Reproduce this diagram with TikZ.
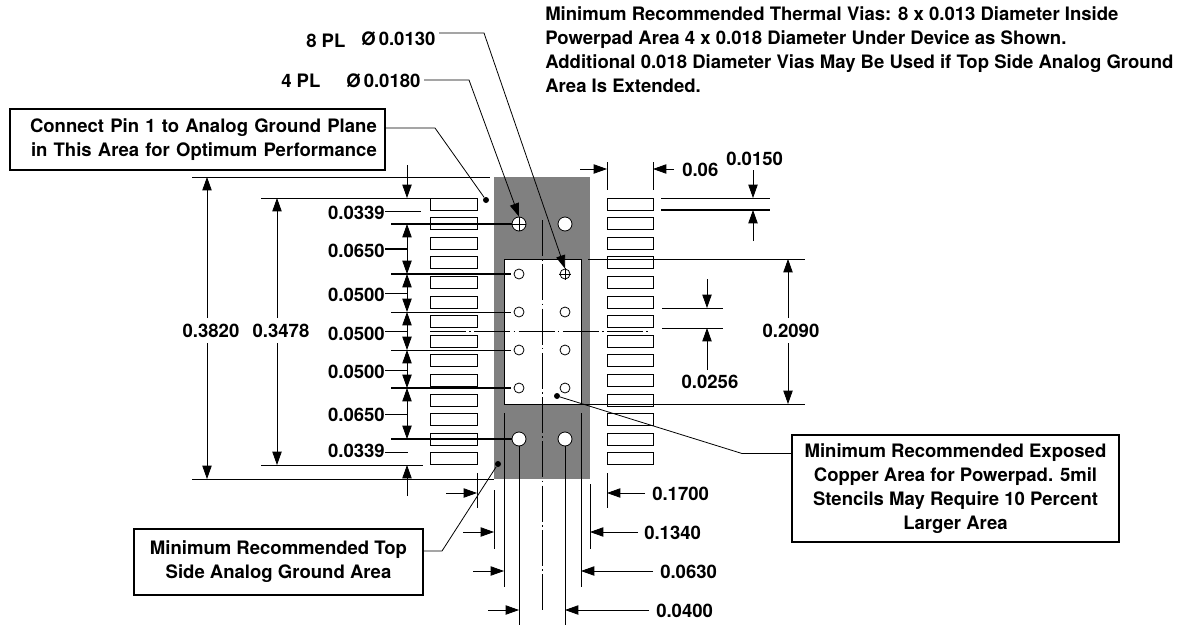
\documentclass[tikz,border=0pt]{standalone}
\usepackage{fontspec}
\setmainfont{TeX Gyre Heros}
\usetikzlibrary{arrows.meta}

\begin{document}
\begin{tikzpicture}[x=.75pt,y=-.75pt,>={Triangle[length=10pt,width=7pt]},
    every node/.append style={align=center,inner sep=0pt,font=\fontsize{13.9}{18}\selectfont\bfseries},
    thin line/.style={line width=.6pt},
    thick line/.style={line width=1.1pt},
    callout/.style={draw,line width=1.5pt,fill=white},
    leader/.style={line width=.6pt},
    center line/.style={line width=.6pt,dash pattern=on 27pt off 2.5pt on 1.2pt off 2.5pt},
    pad/.style={draw,line width=.7pt,fill=white},
    big hole/.style={circle,draw,line width=.6pt,fill=white,minimum size=10.5pt},
    small hole/.style={circle,draw,line width=.6pt,fill=white,minimum size=7.5pt},
    spot/.style={circle,fill=black,minimum size=4.5pt}]
    \useasboundingbox (0,0) rectangle (1186,625);

    % copper area and pins
    \fill[gray] (494,177) rectangle (590,479);
    \draw[thin line,fill=white] (504,259) rectangle (581,404);
    \foreach \i in {0,...,13} {
      \draw[pad] (430,198+19.6*\i) rectangle +(47,12);
      \draw[pad] (607,198+19.6*\i) rectangle +(46,12);
    }

    \draw[center line] (542,220) -- (542,610);
    \draw[center line] (430,331) -- (650,331);

    \node[big hole] (H1) at (519,224) {};
    \node[big hole] (H2) at (565,224) {};
    \node[small hole] (V1) at (519,274) {};
    \node[small hole] (V2) at (565,274) {};
    \node[small hole] (V3) at (519,312) {};
    \node[small hole] (V4) at (565,312) {};
    \node[small hole] (V5) at (519,350) {};
    \node[small hole] (V6) at (565,350) {};
    \node[small hole] (V7) at (519,388) {};
    \node[small hole] (V8) at (565,388) {};
    \node[big hole] (H3) at (519,439) {};
    \node[big hole] (H4) at (565,439) {};
    \draw[thin line] (H1.north) -- (H1.south) (H1.west) -- (H1.east);
    \draw[thin line] (565,268) -- (565,280) (559,274) -- (571,274);

    % left side dimensions
    \draw[thin line] (192,177) -- (490,177);
    \draw[thin line] (261,198) -- (430,198);
    \draw[thin line] (261,465) -- (423,465);
    \draw[thin line] (192,479) -- (494,479);
    \draw[thick line] (391,224) -- (H1.west);
    \draw[thick line] (391,274) -- ([xshift=-2pt]V1.west);
    \draw[thin line] (391,312) -- ([xshift=-2pt]V3.west);
    \draw[thin line] (391,350) -- ([xshift=-2pt]V5.west);
    \draw[thick line] (391,388) -- ([xshift=-2pt]V7.west);
    \draw[thick line] (391,439) -- (H3.west);

    \node (D1) at (211,331) {0.3820};
    \node (D2) at (281,331) {0.3478};
    \draw[thin line,->] (207,318) -- (207,177);
    \draw[thin line,->] (207,343) -- (207,479);
    \draw[thin line,->] (277,318) -- (277,198);
    \draw[thin line,->] (277,343) -- (277,465);

    \node[anchor=east] (L1) at (385,213) {0.0339};
    \node[anchor=east] (L2) at (385,251) {0.0650};
    \node[anchor=east] (L3) at (385,295) {0.0500};
    \node[anchor=east] (L4) at (385,334) {0.0500};
    \node[anchor=east] (L5) at (385,372) {0.0500};
    \node[anchor=east] (L6) at (385,415) {0.0650};
    \node[anchor=east] (L7) at (385,451) {0.0339};
    \draw[thin line] (385,211) -- (421,211);
    \draw[thick line] (385,249) -- (407,249);
    \draw[thin line] (385,293) -- (407,293);
    \draw[thin line] (385,331) -- (407,331);
    \draw[thin line] (385,370) -- (407,370);
    \draw[thin line] (385,414) -- (407,414);
    \draw[thin line] (385,452) -- (408,452);
    \draw[thin line,->] (407,165) -- (407,198);
    \draw[thin line,<->] (407,224) -- (407,274);
    \draw[thin line,<->] (407,274) -- (407,312);
    \draw[thin line,<->] (407,312) -- (407,350);
    \draw[thin line,<->] (407,350) -- (407,388);
    \draw[thin line,<->] (407,388) -- (407,439);
    \draw[thin line,->] (407,496) -- (407,465);

    % right side dimensions
    \draw[thin line] (607,162) -- (607,190);
    \draw[thin line] (653,162) -- (653,190);
    \draw[thin line,->] (580,169) -- (607,169);
    \draw[thin line,->] (674,169) -- (653,169);
    \node[anchor=west] (W1) at (682,170) {0.06};
    \node[anchor=west] (W2) at (726,159) {0.0150};
    \draw[thin line] (661,198) -- (770,198);
    \draw[thick line] (661,210) -- (770,210);
    \draw[thin line,->] (753,170) -- (753,198);
    \draw[thin line,->] (753,241) -- (753,210);

    \draw[thin line] (588,259) -- (805,259);
    \draw[thin line] (581,404) -- (805,404);
    \node (S1) at (791,331) {0.2090};
    \draw[thin line,->] (788,318) -- (788,259);
    \draw[thin line,->] (788,343) -- (788,404);

    \draw[thin line] (662,308) -- (723,308);
    \draw[thin line] (662,328) -- (723,328);
    \node (S2) at (710,382) {0.0256};
    \draw[thin line,->] (707,279) -- (707,308);
    \draw[thin line,->] (707,370) -- (707,328);

    % bottom dimensions
    \draw[thin line] (477,473) -- (477,508) (607,473) -- (607,508);
    \draw[thin line] (494,490) -- (494,549) (590,484) -- (590,549);
    \draw[thin line] (504,413) -- (504,587) (581,413) -- (581,587);
    \draw[thin line] (H3.south) -- (519,625) (H4.south) -- (565,625);
    \draw[thin line,->] (446,493) -- (477,493);
    \draw[thin line,->] (463,532) -- (494,532);
    \draw[thin line,->] (473,571) -- (504,571);
    \draw[thin line,->] (488,610) -- (519,610);
    \draw[thin line,->] (645,493) -- (607,493);
    \draw[thin line,->] (638,532) -- (590,532);
    \draw[thin line,->] (653,571) -- (581,571);
    \draw[thin line,->] (649,610) -- (565,610);
    \node[anchor=west] (B1) at (652,494) {0.1700};
    \node[anchor=west] (B2) at (644,533) {0.1340};
    \node[anchor=west] (B3) at (660,572) {0.0630};
    \node[anchor=west] (B4) at (656,611) {0.0400};

    % via callouts
    \node[anchor=west] (P8) at (306,41) {8 PL};
    \node[anchor=west] (A8) at (361,39) {Ø\,0.0130};
    \node[anchor=west] (P4) at (281,81) {4 PL};
    \node[anchor=west] (A4) at (346,81) {Ø\,0.0180};
    \coordinate (P8s) at (439,33);
    \coordinate (P8a) at (484,33);
    \coordinate (P4s) at (424,80);
    \coordinate (P4a) at (469,80);
    \draw[leader,->] (P8s) -- (P8a) -- (V2.north);
    \draw[leader,->] (P4s) -- (P4a) -- (H1.north);

    \node[anchor=west,align=left] (NOTE) at (545,49.5) {Minimum Recommended Thermal Vias: 8 x 0.013 Diameter Inside\\
      Powerpad Area 4 x 0.018 Diameter Under Device as Shown.\\
      Additional 0.018 Diameter Vias May Be Used if Top Side Analog Ground\\
      Area Is Extended.};

    % boxes
    \node[callout,text width=269pt,inner xsep=6pt,align=right,minimum height=45.75pt] (PIN) at (197.5,139.5) {Connect Pin 1 to Analog Ground Plane\\in This Area for Optimum Performance};
    \node[callout,minimum width=216.75pt,minimum height=49.5pt] (TOP) at (278.5,562) {Minimum Recommended Top\\Side Analog Ground Area};
    \node[callout,minimum width=245.25pt,minimum height=80.25pt] (EXP) at (955.5,488.5) {Minimum Recommended Exposed\\Copper Area for Powerpad. 5mil\\Stencils May Require 10 Percent\\Larger Area};

    \node[spot] (SP1) at (486,200) {};
    \node[spot] (SP2) at (498,464) {};
    \node[spot] (SP3) at (557,396) {};
    \coordinate (PINa) at (435,128);
    \coordinate (TOPa) at (442,551);
    \coordinate (EXPa) at (742,453.5);
    \draw[leader] (PIN.east |- PINa) -- (PINa) -- (SP1);
    \draw[leader] (TOP.east |- TOPa) -- (TOPa) -- (SP2);
    \draw[leader] (EXP.west |- EXPa) -- (EXPa) -- (SP3);
\end{tikzpicture}
\end{document}
